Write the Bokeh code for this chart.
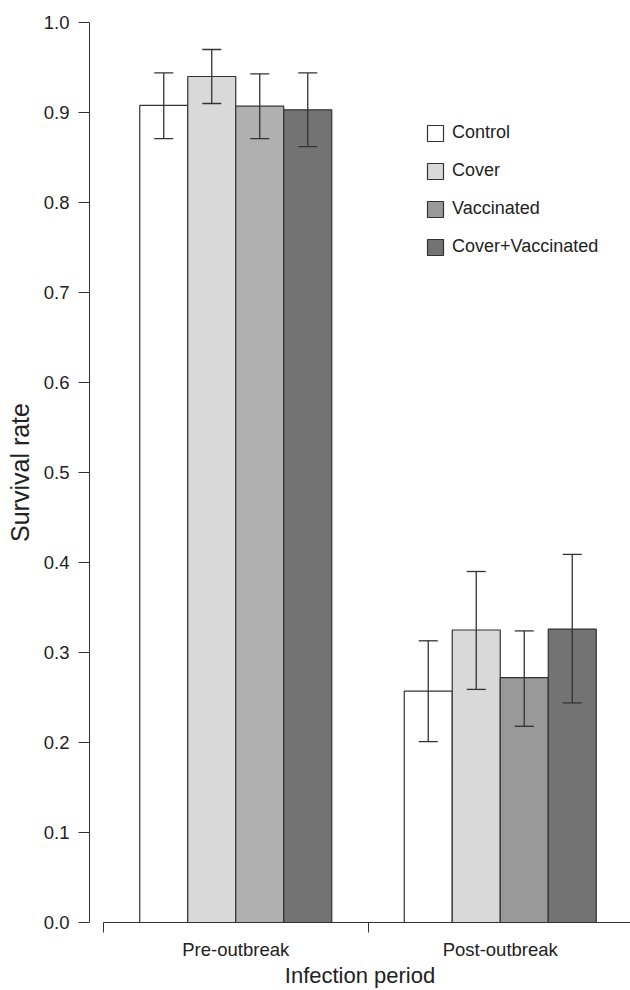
import numpy as np
from bokeh.plotting import figure
from bokeh.models import (ColumnDataSource, Range1d, LinearAxis, FixedTicker,
                          Whisker, TeeHead, Legend, LegendItem, PrintfTickFormatter)
from bokeh.embed import file_html
from bokeh.resources import INLINE

# ---- data ----
periods = ["Pre-outbreak", "Post-outbreak"]
treatments = ["Control", "Cover", "Vaccinated", "Cover+Vaccinated"]

control = [0.908, 0.257]
cover = [0.940, 0.325]
vaccinated = [0.907, 0.272]
cover_vaccinated = [0.903, 0.326]

control_lower = [0.871, 0.201]
control_upper = [0.944, 0.313]
cover_lower = [0.910, 0.259]
cover_upper = [0.970, 0.390]
vaccinated_lower = [0.871, 0.218]
vaccinated_upper = [0.943, 0.324]
cover_vaccinated_lower = [0.862, 0.244]
cover_vaccinated_upper = [0.944, 0.409]

y_ticks = [0.0, 0.1, 0.2, 0.3, 0.4, 0.5, 0.6, 0.7, 0.8, 0.9, 1.0]

# ---- styles ----
FONT = "Liberation Sans"
INK = "#222222"
LINE = "#333333"
fills = {
    "Control": ["#ffffff", "#ffffff"],
    "Cover": ["#d9d9d9", "#d9d9d9"],
    "Vaccinated": ["#b0b0b0", "#999999"],
    "Cover+Vaccinated": ["#737373", "#737373"],
}
values = {"Control": control, "Cover": cover, "Vaccinated": vaccinated,
          "Cover+Vaccinated": cover_vaccinated}
lowers = {"Control": control_lower, "Cover": cover_lower,
          "Vaccinated": vaccinated_lower, "Cover+Vaccinated": cover_vaccinated_lower}
uppers = {"Control": control_upper, "Cover": cover_upper,
          "Vaccinated": vaccinated_upper, "Cover+Vaccinated": cover_vaccinated_upper}

PX_PER_UNIT = 264.5
LEFT, TOP, BOTTOM = 89, 22, 68
W, H = 630, 990
FRAME_W = W - LEFT
x_start = -14 / PX_PER_UNIT
group_centers = np.array([0.5, 1.5])
bar_w = 48 / PX_PER_UNIT

p = figure(width=W, height=H, output_backend="svg", toolbar_location=None,
           x_range=Range1d(x_start, x_start + FRAME_W / PX_PER_UNIT),
           y_range=Range1d(0, 1.0),
           x_axis_location=None, y_axis_location=None,
           min_border_left=LEFT, min_border_right=0, min_border_top=TOP,
           min_border_bottom=BOTTOM)
p.xgrid.visible = False
p.ygrid.visible = False
p.outline_line_color = None
p.background_fill_color = "white"
p.border_fill_color = "white"

renderers = {}
for i, t in enumerate(treatments):
    src = ColumnDataSource(dict(
        x=group_centers + (i - 1.5) * bar_w,
        top=values[t],
        lower=lowers[t],
        upper=uppers[t],
        fill=fills[t],
    ))
    r = p.vbar(x="x", top="top", bottom=0, width=bar_w, source=src,
               fill_color="fill", line_color=LINE, line_width=1.2)
    renderers[t] = r
    w = Whisker(base="x", lower="lower", upper="upper", source=src,
                level="overlay",
                line_color=LINE, line_width=1.3,
                upper_head=TeeHead(size=19, line_color=LINE, line_width=1.3),
                lower_head=TeeHead(size=19, line_color=LINE, line_width=1.3))
    p.add_layout(w)

# y axis
yax = LinearAxis(ticker=FixedTicker(ticks=y_ticks), axis_label="Survival rate")
yax.formatter = PrintfTickFormatter(format="%.1f")
yax.axis_line_color = LINE
yax.major_tick_line_color = LINE
yax.major_tick_out = 11
yax.major_tick_in = 0
yax.minor_tick_line_color = None
yax.major_label_standoff = 9
yax.major_label_text_font = FONT
yax.major_label_text_font_size = "18.5px"
yax.major_label_text_color = INK
yax.axis_label_text_font = FONT
yax.axis_label_text_font_size = "25px"
yax.axis_label_text_font_style = "normal"
yax.axis_label_text_color = INK
yax.axis_label_standoff = 7
p.add_layout(yax, "left")

# x axis: tick marks at group boundaries, labels at group centers
xax = LinearAxis(ticker=FixedTicker(ticks=list(group_centers), minor_ticks=[0, 1, 2]),
                 axis_label="Infection period", bounds=(0, 2))
xax.major_label_overrides = {float(c): lab for c, lab in zip(group_centers, periods)}
xax.axis_line_color = LINE
xax.major_tick_line_color = None
xax.major_tick_out = 0
xax.major_tick_in = 0
xax.minor_tick_line_color = LINE
xax.minor_tick_out = 10
xax.minor_tick_in = 0
xax.major_label_standoff = 6
xax.major_label_text_font = FONT
xax.major_label_text_font_size = "18.5px"
xax.major_label_text_color = INK
xax.axis_label_text_font = FONT
xax.axis_label_text_font_size = "22px"
xax.axis_label_text_font_style = "normal"
xax.axis_label_text_color = INK
xax.axis_label_standoff = 0
p.add_layout(xax, "below")

legend = Legend(items=[LegendItem(label=t, renderers=[renderers[t]], index=1)
                       for t in treatments],
                location=(336, 665), orientation="vertical",
                glyph_width=20, glyph_height=20, label_height=17,
                spacing=17, padding=0, margin=0, label_standoff=7,
                label_text_font=FONT, label_text_font_size="18px",
                label_text_color=INK, border_line_color=None,
                background_fill_alpha=0)
p.add_layout(legend)

open("out.html", "w").write(file_html(p, INLINE))
